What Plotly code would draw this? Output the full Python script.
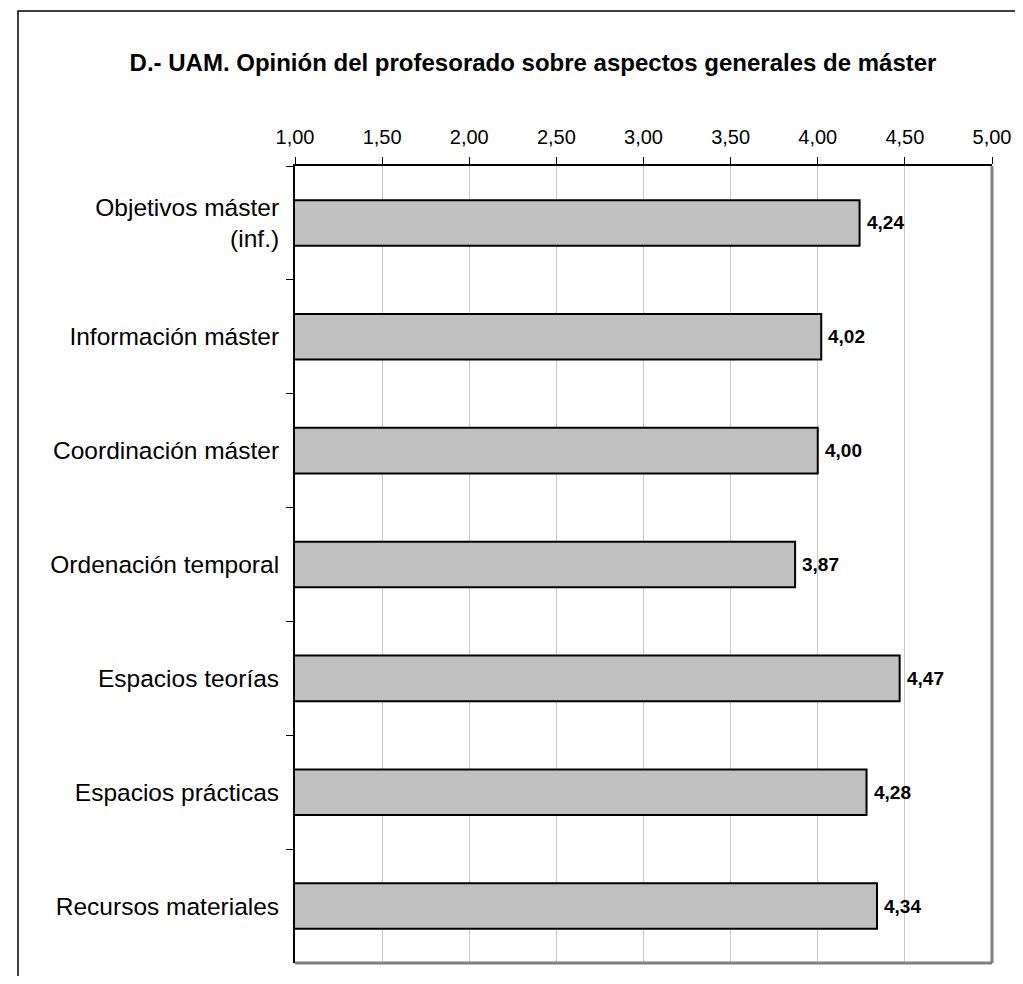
import plotly.graph_objects as go

categories = ["Objetivos máster<br>(inf.)", "Información máster", "Coordinación máster",
              "Ordenación temporal", "Espacios teorías", "Espacios prácticas", "Recursos materiales"]
values = [4.24, 4.02, 4.00, 3.87, 4.47, 4.28, 4.34]
x_ticks = [1.0, 1.5, 2.0, 2.5, 3.0, 3.5, 4.0, 4.5, 5.0]
title_text = "D.- UAM. Opinión del profesorado sobre aspectos generales de máster"

# page has an 8px body margin; figure coordinates are page coordinates minus 8
OFF = 8
W, H = 1023 - 2 * OFF, 984 - 2 * OFF
L, R, T, B = 295 - OFF, 992 - OFF, 166 - OFF, 963 - OFF

FONT = "Liberation Sans, Arial, sans-serif"

fig = go.Figure()
fig.add_trace(go.Bar(
    x=values, y=categories, orientation="h",
    marker=dict(color="#C0C0C0", line=dict(color="#000000", width=2)),
    width=0.4,
    hoverinfo="skip",
))

for v, c in zip(values, categories):
    fig.add_annotation(x=v, y=c, xref="x", yref="y",
                       text="<b>" + f"{v:.2f}".replace(".", ",") + "</b>",
                       showarrow=False, xanchor="left", yanchor="middle", xshift=5,
                       font=dict(family=FONT, size=19, color="#000000"))

pw, ph = R - L, B - T
def px(x):
    return (x - L) / pw
def py(y):
    return (B - y) / ph

fig.update_layout(
    width=W, height=H,
    margin=dict(l=L, r=W - R, t=T, b=H - B, autoexpand=False),
    paper_bgcolor="white", plot_bgcolor="white",
    separators=",.",
    showlegend=False,
    font=dict(family=FONT, color="#000000"),
    title=dict(text="<b>" + title_text + "</b>", x=(533 - OFF) / W, xanchor="center",
               y=1 - (63 - OFF) / H, yanchor="middle",
               font=dict(family=FONT, size=24, color="#000000")),
    xaxis=dict(range=[1, 5], side="top", tickvals=x_ticks, tickformat=".2f",
               automargin=False,
               showgrid=True, gridcolor="#C8C8C8", gridwidth=1,
               showline=True, linecolor="#000000", linewidth=2,
               ticks="outside", ticklen=7, tickcolor="#000000", tickwidth=1,
               ticklabelstandoff=5,
               tickfont=dict(family=FONT, size=20, color="#000000"),
               zeroline=False, fixedrange=True),
    yaxis=dict(autorange="reversed", type="category", automargin=False,
               showline=True, linecolor="#000000", linewidth=2,
               ticks="outside", ticklen=7, tickcolor="#000000", tickwidth=1,
               tickson="boundaries", showgrid=False, ticklabelstandoff=9,
               tickfont=dict(family=FONT, size=24.5, color="#000000"),
               fixedrange=True),
    shapes=[
        dict(type="line", xref="paper", yref="paper", x0=1, x1=1, y0=0, y1=1,
             line=dict(color="#808080", width=3)),
        dict(type="line", xref="paper", yref="paper", x0=0, x1=1, y0=0, y1=0,
             line=dict(color="#808080", width=3)),
        dict(type="rect", xref="paper", yref="paper",
             x0=px(18 - OFF), x1=px(1060), y0=py(11 - OFF), y1=py(1020),
             line=dict(color="#000000", width=1.5), fillcolor="rgba(0,0,0,0)"),
    ],
)

fig.write_html("out.html")
